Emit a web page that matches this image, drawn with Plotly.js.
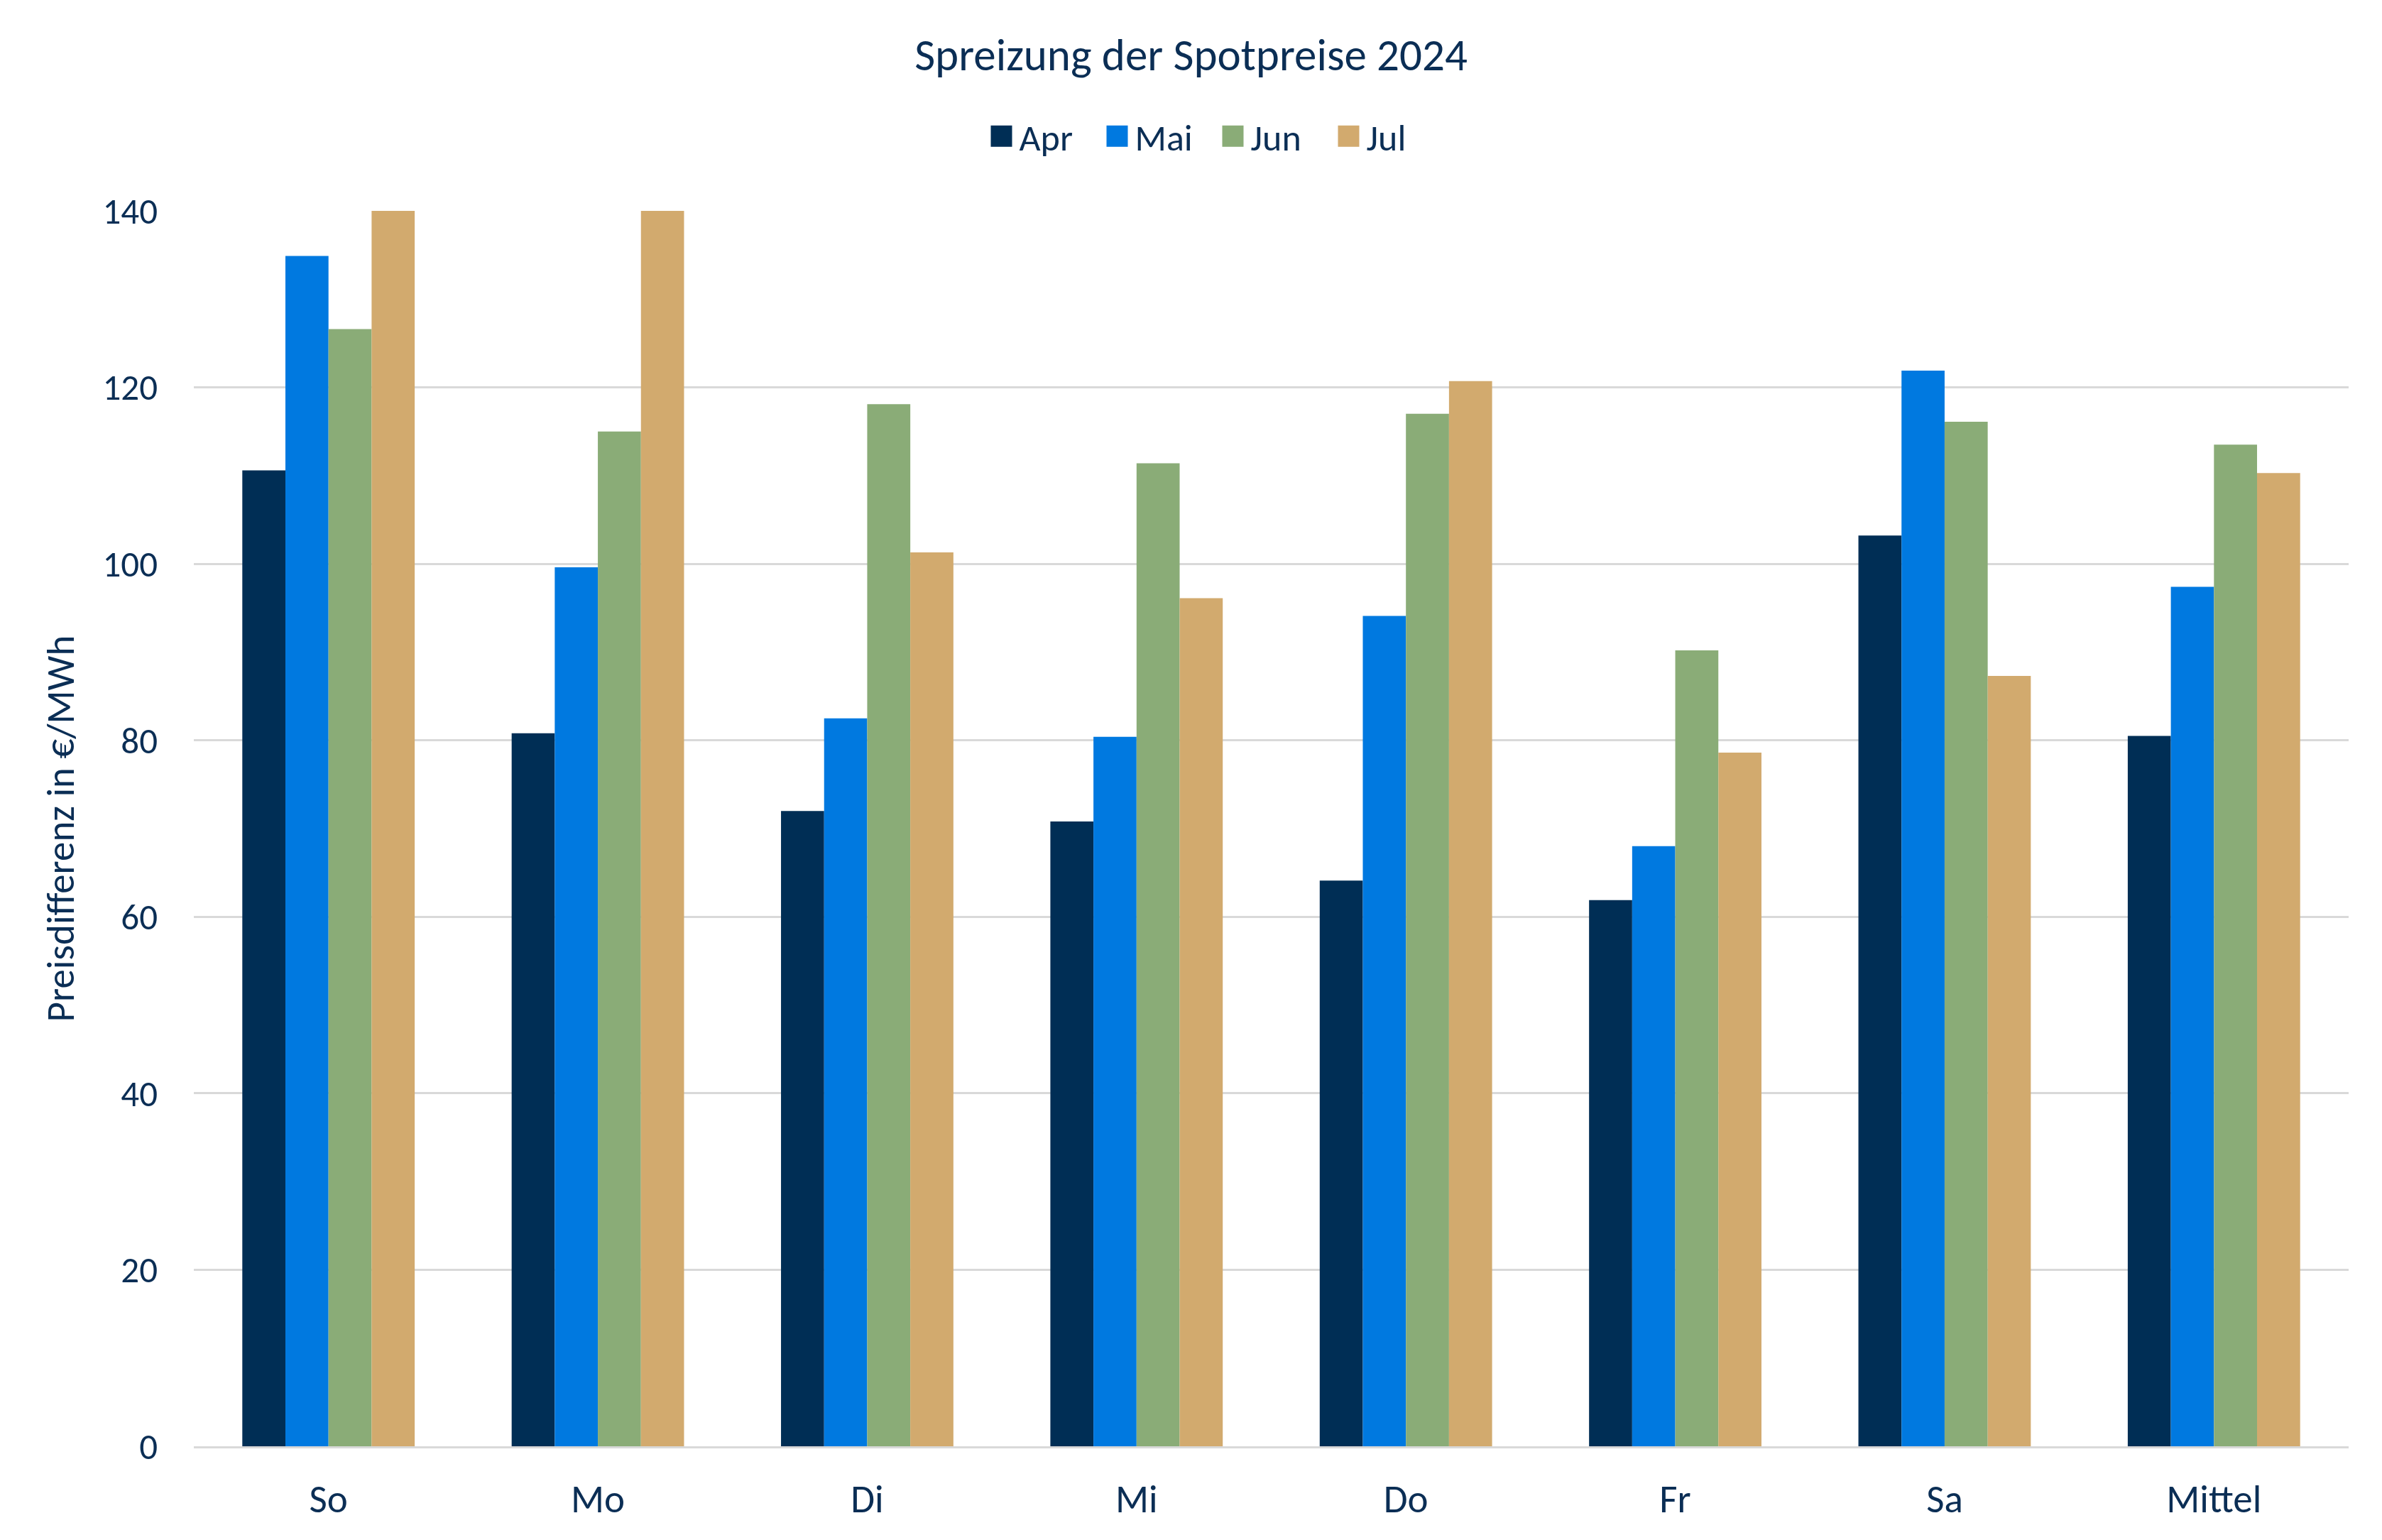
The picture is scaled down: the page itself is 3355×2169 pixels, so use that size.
<!DOCTYPE html>
<html>
<head>
<meta charset="utf-8">
<script src="https://cdn.plot.ly/plotly-3.0.1.min.js"></script>
<style>
  html, body { margin: 0; padding: 0; background: #ffffff; }
  #chart { width: 3355px; height: 2169px; }
</style>
</head>
<body>
<div id="chart"></div>
<script>
// ---- Data ----
const categories = ["So", "Mo", "Di", "Mi", "Do", "Fr", "Sa", "Mittel"];
const seriesNames = ["Apr", "Mai", "Jun", "Jul"];
const apr = [110.6, 80.8, 72.0, 70.8, 64.1, 61.9, 103.2, 80.5];
const mai = [134.9, 99.6, 82.5, 80.4, 94.1, 68.0, 121.9, 97.4];
const jun = [126.6, 115.0, 118.1, 111.4, 117.0, 90.2, 116.1, 113.5];
const jul = [140.0, 140.0, 101.3, 96.1, 120.7, 78.6, 87.3, 110.3];
const yTicks = [0, 20, 40, 60, 80, 100, 120, 140];

const colors = ["#002E55", "#0079E0", "#8AAC77", "#D2AA6E"];
const textColor = "#0B2E55";
const fontFamily = "Carlito, Lato, 'Open Sans', sans-serif";

const seriesValues = [apr, mai, jun, jul];
const traces = seriesValues.map((vals, i) => ({
  type: "bar",
  name: seriesNames[i],
  x: categories,
  y: vals,
  marker: { color: colors[i], line: { width: 0 } },
  hoverinfo: "x+y+name"
}));

const layout = {
  width: 3355,
  height: 2169,
  paper_bgcolor: "#ffffff",
  plot_bgcolor: "#ffffff",
  font: { family: fontFamily, color: textColor, size: 48 },
  margin: { l: 273, r: 47, t: 297, b: 132, pad: 0 },
  barmode: "group",
  bargap: 0.36,
  bargroupgap: 0,
  title: {
    text: "Spreizung der Spotpreise 2024",
    font: { family: fontFamily, size: 63, color: textColor },
    xref: "container", x: 0.5, xanchor: "center",
    yref: "container", y: 1 - 77 / 2169, yanchor: "middle"
  },
  showlegend: true,
  legend: {
    orientation: "h",
    xref: "container", x: 0.5 + 34 / 3355, xanchor: "center",
    yref: "container", y: 1 - 192 / 2169, yanchor: "middle",
    font: { family: fontFamily, size: 52, color: textColor },
    itemwidth: 40,
    entrywidth: 108,
    entrywidthmode: "pixels",
    traceorder: "normal",
    bgcolor: "rgba(0,0,0,0)"
  },
  xaxis: {
    type: "category",
    tickfont: { family: fontFamily, size: 55, color: textColor },
    showgrid: false,
    zeroline: false,
    showline: true,
    linecolor: "#D9D9D9",
    linewidth: 3,
    ticks: "",
    ticklabelstandoff: 24,
    fixedrange: true
  },
  yaxis: {
    range: [0, 140],
    tickvals: yTicks,
    ticktext: yTicks.map(String),
    tickfont: { family: fontFamily, size: 51, color: textColor },
    showgrid: true,
    gridcolor: "#D9D9D9",
    gridwidth: 3,
    zeroline: false,
    showline: false,
    ticks: "",
    ticklabelstandoff: 50,
    title: {
      text: "Preisdifferenz in €/MWh",
      font: { family: fontFamily, size: 55, color: textColor },
      standoff: 22
    },
    fixedrange: true
  }
};

const gd = document.getElementById("chart");
function enlargeLegendSymbols() {
  gd.querySelectorAll(".legend .legendpoints path").forEach(p => {
    if (!p.hasAttribute("data-orig-transform")) {
      p.setAttribute("data-orig-transform", p.getAttribute("transform") || "");
    }
    const orig = p.getAttribute("data-orig-transform");
    p.setAttribute("transform", (orig + " scale(2.5)").trim());
  });
}
Plotly.newPlot(gd, traces, layout, { staticPlot: true, displayModeBar: false }).then(() => {
  enlargeLegendSymbols();
  if (gd.on) gd.on("plotly_afterplot", enlargeLegendSymbols);
});
</script>
</body>
</html>
